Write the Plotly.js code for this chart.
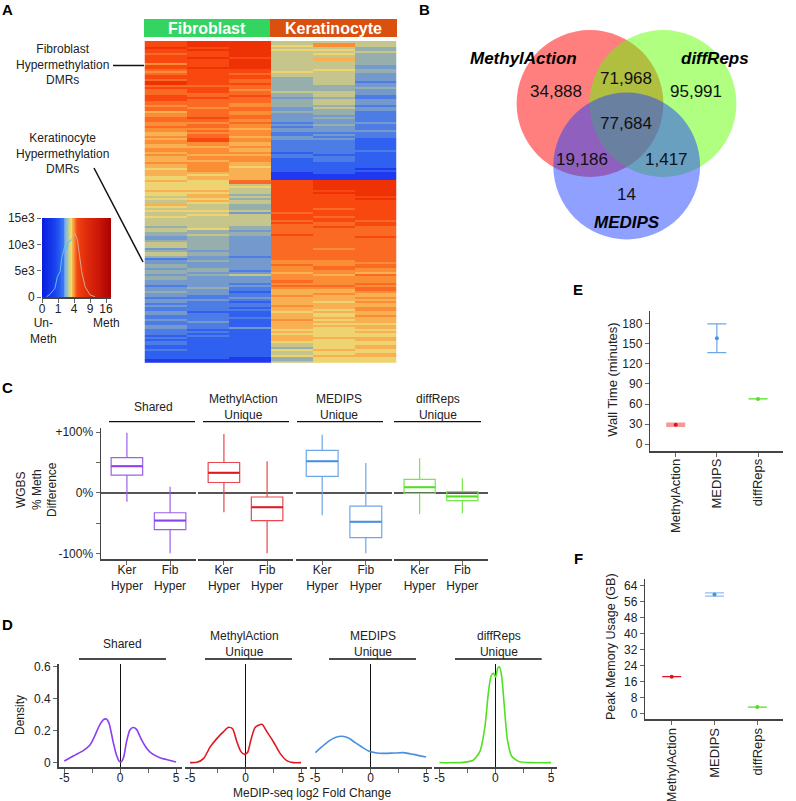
<!DOCTYPE html>
<html>
<head>
<meta charset="utf-8">
<script src="https://cdn.plot.ly/plotly-3.0.1.min.js"></script>
<style>
  html, body { margin: 0; padding: 0; background: #fff; }
</style>
</head>
<body>
<div id="chart" style="width:796px;height:801px"></div>
<script>
// Panel A - heatmap levels, one array per sample, top row first (0 deep blue .. 11 red)
const fib1 = [10,10,10,11,10,10,9,10,10,10, 10,8,10,10,9,8,9,10,10,9, 11,11,9,10,9,9,9,10,10,10,
  9,9,8,9,9,7,8,8,9,9, 8,8,9,8,8,7,7,8,7,8, 8,7,7,8,8,7,8,7,7,7, 8,7,7,6,7,7,7,6,6,7,
  6,6,6,6,7,6,6,5,6,5, 5,7,6,5,6,5,5,6,5,5, 5,5,4,5,5,4,4,3,3,4, 5,5,5,3,4,5,5,4,2,3,
  3,4,4,3,4,4,3,4,4,3, 3,2,3,3,4,3,3,2,3,3, 2,3,2,2,3,3,2,2,3,2, 2,3,3,2,2,2,1,2,1,2, 2,1,1,2,1,1,1,1,0,0];
const fib2 = [11,11,11,10,11,10,10,10,11,10, 10,10,10,11,10,10,10,10,10,10, 10,10,9,10,10,10,9,9,10,9,
  9,9,9,8,9,9,9,9,10,9, 8,9,9,8,9,8,9,9,10,10, 8,8,7,8,8,8,7,8,8,7, 8,8,8,8,8,7,6,7,7,6,
  6,6,6,6,7,6,7,7,6,7, 6,5,5,5,6,5,6,5,5,5, 5,5,5,6,4,4,5,4,4,4, 4,4,4,4,3,4,4,3,3,4,
  3,3,3,4,4,3,4,3,3,3, 3,3,4,3,3,3,2,2,3,2, 2,2,2,2,1,2,2,2,2,3, 2,2,2,1,2,1,2,1,1,1, 1,1,1,1,1,1,1,1,0,0];
const fib3 = [11,11,11,11,11,11,11,11,10,11, 11,11,11,11,10,10,9,10,10,9, 9,10,9,9,8,9,9,10,9,9,
  9,8,8,9,9,8,8,9,9,8, 9,8,8,7,8,8,8,7,8,8, 7,7,8,7,7,8,7,8,8,8, 7,7,6,7,7,7,7,7,7,9,
  9,5,6,5,5,5,4,5,4,5, 5,4,4,4,5,3,5,5,5,5, 5,5,4,4,3,4,4,3,3,3, 3,3,3,3,3,3,3,2,3,3,
  3,3,3,3,2,3,5,3,3,3, 2,3,2,2,1,2,2,3,2,1, 2,2,1,2,1,1,1,2,1,1, 1,1,3,1,1,1,1,1,1,1, 1,1,1,1,1,1,1,0,0,0];
const ker1 = [5,5,6,5,6,5,5,5,5,5, 5,5,5,5,5,6,5,5,4,4, 4,4,4,4,4,5,4,4,3,4,
  4,4,4,3,3,4,3,3,3,3, 2,3,2,3,3,2,2,3,3,2, 2,2,2,2,2,1,2,2,1,1, 1,1,1,1,1,0,0,0,0,10,
  10,10,10,10,10,10,10,10,10,10, 10,10,10,10,10,9,10,10,10,9, 10,9,9,9,9,9,10,9,9,9, 9,9,9,9,9,9,9,9,9,8,
  8,9,8,8,8,7,8,8,8,9, 8,9,8,7,7,7,8,7,7,7, 7,8,7,7,6,7,7,7,8,7, 7,7,7,6,7,6,7,7,7,6, 5,5,4,6,5,5,6,4,4,5];
const ker2 = [5,8,8,5,6,5,6,5,7,7, 5,5,5,5,6,5,5,5,5,5, 5,5,4,4,4,5,5,5,4,5,
  5,5,4,5,4,4,4,3,4,3, 3,4,3,3,3,2,3,2,3,2, 2,2,2,2,2,2,1,2,2,2, 1,1,1,1,1,1,0,0,0,11,
  11,11,11,11,10,11,10,10,10,10, 10,10,10,9,10,10,10,9,10,10, 9,9,10,9,9,9,9,9,9,9, 9,9,9,8,9,9,9,9,9,8,
  8,8,9,9,8,8,7,8,8,8, 8,9,8,7,7,8,7,7,7,6, 7,7,7,6,7,6,6,7,6,7, 6,7,6,6,6,6,6,7,6,6, 6,6,6,7,6,6,7,6,6,6];
const ker3 = [5,5,5,4,4,5,4,4,4,4, 4,4,3,3,4,4,3,3,3,3, 2,3,3,4,3,3,3,2,2,3,
  3,3,2,3,3,2,2,2,2,2, 3,2,2,2,3,2,2,2,1,1, 1,1,1,1,2,1,1,1,1,1, 1,1,1,0,1,0,0,0,0,11,
  11,11,11,11,11,11,11,10,11,10, 10,10,10,10,10,10,10,10,10,9, 10,10,9,9,9,9,9,10,9,9, 9,9,9,9,9,9,9,9,9,9,
  8,9,9,8,8,7,9,8,8,8, 9,8,9,9,8,7,7,8,7,8, 7,7,8,8,7,7,8,7,7,7, 6,7,7,6,7,6,6,7,7,6, 6,7,7,6,6,7,7,6,6,6];

// colour key under the histogram, sqrt scale
const keySteps = [0,0.1,0.2,0.3,0.4,0.5,0.6,0.7,0.8,0.9,1,1.1,1.2,1.3,1.4,1.5,1.6,1.7,1.8,1.9,2,2.1,2.2,
  2.3,2.4,2.5,2.6,2.7,2.8,2.9,3,3.1,3.2,3.3,3.4,3.5,3.6,3.7,3.8,3.9,4,4.1,4.2,4.3];
const histLeftX = [0.29,0.5,0.81,0.96,1.13,1.23,1.44,1.54,1.65,1.85];
const histLeftY = [60,510,1650,3860,4820,7350,9880,8930,10510,10830];
const histRightX = [1.85,2.06,2.21,2.33,2.48,2.69,3.0,3.31];
const histRightY = [10830,12090,10830,7660,4820,1960,380,60];

// Panel B
const vennCounts = ['34,888','71,968','95,991','77,684','19,186','1,417','14'];
const vennNames = ['MethylAction','diffReps','MEDIPS'];

// Panel C - WGBS % meth difference, Ker then Fib for each group
const boxGroups = ['Shared','MethylAction<br>Unique','MEDIPS<br>Unique','diffReps<br>Unique'];
const boxCats = ['Ker<br>Hyper','Fib<br>Hyper'];
const boxLow = [-15,-100,-32,-100,-37,-100,-35,-34];
const boxQ1 = [29,-61,17,-46,27,-74,-1,-13];
const boxMed = [44,-46,33,-24,52,-48,9,-6];
const boxQ3 = [58,-33,50,-7,70,-22,22,2];
const boxHigh = [99,10,97,52,96,49,57,24];
const boxEdge = ['#9a62e8','#e8484e','#6fa6e6','#78e64e'];
const boxMid = ['#8a3ff0','#e01820','#4a90e0','#50e020'];

// Panel D - density curves
const sharedX = [-5,-4.2,-3.3,-2.7,-2.3,-1.84,-1.47,-1.23,-0.99,-0.63,-0.33,-0.09,0.12,0.33,0.57,0.87,1.17,1.47,1.92,2.37,2.82,3.56,4.31,5];
const sharedY = [.01,.042,.075,.11,.163,.235,.27,.273,.246,.131,.048,.01,.006,.038,.131,.204,.22,.208,.142,.09,.058,.031,.017,.004];
const methylX = [-5,-4.37,-3.77,-3.17,-2.57,-1.98,-1.53,-1.17,-0.78,-0.42,-0.09,0.18,0.48,0.87,1.47,1.92,2.51,3.11,3.71,4.31,5];
const methylY = [0,.002,.027,.1,.152,.194,.221,.212,.131,.069,.052,.063,.142,.221,.24,.194,.131,.058,.013,0,0];
const medipsX = [-4.97,-4.37,-3.77,-3.17,-2.57,-1.98,-1.38,-.78,-.18,.42,1.17,2.07,2.96,3.86,5];
const medipsY = [.0625,.1,.135,.158,.165,.154,.125,.098,.073,.0625,.058,.06,.0625,.052,.035];
const diffX = [-5,-2.87,-1.98,-1.38,-.93,-.63,-.39,-.18,.03,.21,.36,.57,.78,1.08,1.47,2.07,3.11,5];
const diffY = [0,.002,.015,.071,.227,.435,.54,.56,.535,.59,.6,.54,.373,.144,.04,.008,0,0];

// Panels E and F
const tools = ['MethylAction','MEDIPS','diffReps'];
const toolColors = ['#e01020','#4a90e0','#50e020'];
const wallTime = [29,158,67.5];
const wallUp = [1.6,21.5,0];
const wallDown = [1.6,21.5,0];
const wallErrColors = ['#f09a9a','#6fa6e6','#50e020'];
const wallErrWidths = [2.4,1.2,1.2];
const memory = [18.3,59.4,3.1];
const memoryUp = [0,0.8,0];
const memoryDown = [0,0.8,0];
const memoryErrColors = ['#e01020','#8fbdf0','#50e020'];
const memoryErrWidths = [1.2,1.2,1.2];

const W = 796, H = 801;
const FONT = '"Liberation Sans", Arial, sans-serif';
const INK = '#222';
const AXIS = '#444';
const px = v => v / W;
const py = v => 1 - v / H;

const traces = [];
const annotations = [];
const shapes = [];

function note(text, x, y, opts) {
    annotations.push(Object.assign({
        text: text, x: px(x), y: py(y), xref: 'paper', yref: 'paper',
        xanchor: 'center', yanchor: 'middle', showarrow: false,
        font: {family: FONT, size: 12, color: INK}
    }, opts || {}));
}

function rule(x0, y0, x1, y1, width) {
    shapes.push({
        type: 'line', xref: 'paper', yref: 'paper',
        x0: px(x0), y0: py(y0), x1: px(x1), y1: py(y1),
        line: {color: '#111', width: width || 1.3}
    });
}

const layout = {
    width: W, height: H,
    margin: {l: 0, r: 0, t: 0, b: 0},
    paper_bgcolor: '#fff', plot_bgcolor: 'rgba(0,0,0,0)',
    showlegend: false,
    font: {family: FONT, size: 12, color: INK}
};

function setAxes(n, xa, ya, left, right, top, bottom) {
    const s = n === 1 ? '' : n;
    layout['xaxis' + s] = Object.assign({
        domain: [px(left), px(right)], anchor: 'y' + s, showgrid: false, zeroline: false,
        fixedrange: true, tickfont: {family: FONT, size: 12, color: INK}
    }, xa);
    layout['yaxis' + s] = Object.assign({
        domain: [py(bottom), py(top)], anchor: 'x' + s, showgrid: false, zeroline: false,
        fixedrange: true, tickfont: {family: FONT, size: 12, color: INK}
    }, ya);
}

const axisLine = {showline: true, linecolor: AXIS, linewidth: 1.5, ticks: 'outside', ticklen: 4, tickcolor: '#666'};
const hidden = {showline: false, showticklabels: false, ticks: ''};

// A: heatmap
const heatZ = fib1.map((_, i) => [fib1[i], fib2[i], fib3[i], ker1[i], ker2[i], ker3[i]]);
traces.push({
    type: 'heatmap', z: heatZ, xaxis: 'x', yaxis: 'y', showscale: false, zmin: 0, zmax: 11,
    colorscale: [
        [0, '#2038f0'], [1/11, '#3060f0'], [2/11, '#4c7ce4'], [3/11, '#7499cc'],
        [4/11, '#96aeac'], [5/11, '#c6c68c'], [6/11, '#eed470'], [7/11, '#f9b052'],
        [8/11, '#fb8e34'], [9/11, '#fa6a24'], [10/11, '#f8480f'], [1, '#ee3206']
    ],
    hoverinfo: 'skip'
});
setAxes(1, Object.assign({range: [-0.5, 5.5]}, hidden), Object.assign({range: [159.5, -0.5]}, hidden), 144.5, 396.5, 41, 362.7);

shapes.push({type: 'rect', xref: 'paper', yref: 'paper', x0: px(144), x1: px(270), y0: py(37), y1: py(19), fillcolor: '#33d45f', line: {width: 0}});
shapes.push({type: 'rect', xref: 'paper', yref: 'paper', x0: px(270), x1: px(397), y0: py(37), y1: py(19), fillcolor: '#d9500f', line: {width: 0}});
note('<b>Fibroblast</b>', 207, 28.5, {font: {family: FONT, size: 16, color: '#fff'}});
note('<b>Keratinocyte</b>', 333.5, 28.5, {font: {family: FONT, size: 16, color: '#fff'}});

note('Fibroblast<br>Hypermethylation<br>DMRs', 62, 65);
note('Keratinocyte<br>Hypermethylation<br>DMRs', 62, 153);
rule(113, 65.5, 144, 65.5, 1.5);
rule(94, 168, 143, 262, 1.5);

// A: colour key with histogram
traces.push({
    type: 'heatmap', x: keySteps, y0: 7500, dy: 15000, z: [keySteps], xaxis: 'x2', yaxis: 'y2',
    showscale: false, zmin: 0, zmax: 4.33, zsmooth: 'best', hoverinfo: 'skip',
    colorscale: [
        [0, '#0a1ee0'], [0.2, '#1c46f0'], [0.3, '#3a78f2'], [0.335, '#7fb2e8'], [0.37, '#b8cc98'],
        [0.415, '#f6dc64'], [0.45, '#f8a040'], [0.49, '#f24a14'], [0.6, '#e4300c'], [0.8, '#cc1808'], [1, '#a80000']
    ]
});
traces.push({type: 'scatter', mode: 'lines', x: histLeftX, y: histLeftY, xaxis: 'x2', yaxis: 'y2', line: {color: '#5cc0ee', width: 1}});
traces.push({type: 'scatter', mode: 'lines', x: histRightX, y: histRightY, xaxis: 'x2', yaxis: 'y2', line: {color: '#e0a48c', width: 1}});
setAxes(2,
    Object.assign({}, axisLine, {range: [0, 4.31], tickvals: [0, 1, 2, 3, 4], ticktext: ['0', '1', '4', '9', '16'], ticklabelstandoff: -4}),
    Object.assign({}, axisLine, {linewidth: 0, showline: false, range: [0, 15000], tickvals: [0, 5000, 10000, 15000], ticktext: ['0', '5e3', '10e3', '15e3']}),
    42, 111, 218, 297);
note('Un-<br>Meth', 43, 331);
note('Meth', 106, 323);

// B: venn
const vennColors = ['rgba(255,0,0,0.5)', 'rgba(97,255,1,0.5)', 'rgba(33,65,255,0.5)'];
[[590, 103.5], [663, 103.5], [626.7, 166]].forEach((c, i) => {
    shapes.push({
        type: 'circle', xref: 'paper', yref: 'paper',
        x0: px(c[0] - 73.4), x1: px(c[0] + 73.4), y0: py(c[1] + 73.4), y1: py(c[1] - 73.4),
        fillcolor: vennColors[i], line: {width: 0}
    });
});
[[556, 91], [626, 78], [696, 91], [626, 124], [582, 159], [666, 159], [626, 194]].forEach((p, i) => {
    note(vennCounts[i], p[0], p[1], {font: {family: FONT, size: 17, color: '#111'}});
});
[[523, 59], [715, 59], [627, 222]].forEach((p, i) => {
    note('<b><i>' + vennNames[i] + '</i></b>', p[0], p[1], {font: {family: FONT, size: 17, color: '#000'}});
});

// C: box plots
const boxDomains = [[101, 196], [198, 293], [296, 392], [394, 488]];
boxGroups.forEach((_, g) => {
    const n = 3 + g;
    [0, 1].forEach(k => {
        const i = g * 2 + k;
        traces.push({
            type: 'box', x: [k], q1: [boxQ1[i]], median: [boxMed[i]], q3: [boxQ3[i]],
            lowerfence: [boxLow[i]], upperfence: [boxHigh[i]], width: 0.73, whiskerwidth: 0,
            boxpoints: false, fillcolor: 'rgba(255,255,255,0)', xaxis: 'x' + n, yaxis: 'y' + n,
            line: {color: boxEdge[g], width: 1.2}
        });
        traces.push({
            type: 'box', x: [k], q1: [boxMed[i]], median: [boxMed[i]], q3: [boxMed[i]],
            lowerfence: [boxMed[i]], upperfence: [boxMed[i]], width: 0.73, whiskerwidth: 0,
            boxpoints: false, fillcolor: 'rgba(255,255,255,0)', xaxis: 'x' + n, yaxis: 'y' + n,
            line: {color: boxMid[g], width: 2}
        });
    });
    const ya = {range: [-109.4, 107], zeroline: true, zerolinecolor: '#555', zerolinewidth: 1.5};
    if (g === 0) {
        Object.assign(ya, axisLine, {tickvals: [100, 50, 0, -50, -100], ticktext: ['+100%', '', '0%', '', '-100%']});
    } else {
        Object.assign(ya, hidden);
    }
    setAxes(n,
        Object.assign({}, axisLine, {range: [-0.6, 1.6], tickvals: [0, 1], ticktext: boxCats, ticklabelstandoff: -5}),
        ya, boxDomains[g][0], boxDomains[g][1], 428, 559);
});
note('WGBS<br>% Meth<br>Difference', 36, 490, {textangle: -90});
const boxLabelX = [153, 243, 339, 438];
const boxRules = [[109, 195], [203, 289], [297, 383], [394, 481]];
boxGroups.forEach((t, g) => {
    note(t, boxLabelX[g], g === 0 ? 407 : 406.5);
    rule(boxRules[g][0], 421.7, boxRules[g][1], 421.7);
});

// D: density curves
const densX = [sharedX, methylX, medipsX, diffX];
const densY = [sharedY, methylY, medipsY, diffY];
const densDomains = [[58.7, 181.6], [184.5, 306.6], [309.5, 431.6], [434, 556.7]];
const densLabelX = [122, 244, 373, 499];
const densRules = [[79, 166], [205, 292], [329, 416], [455, 541.7]];
boxGroups.forEach((t, g) => {
    const n = 7 + g;
    traces.push({
        type: 'scatter', mode: 'lines', x: densX[g], y: densY[g], xaxis: 'x' + n, yaxis: 'y' + n,
        line: {color: boxMid[g], width: 1.6, shape: 'spline', smoothing: 0.6}
    });
    const ya = {range: [-0.029, 0.617]};
    if (g === 0) {
        Object.assign(ya, axisLine, {tickvals: [0, 0.2, 0.4, 0.6], ticktext: ['0', '0.2', '0.4', '0.6']});
    } else {
        Object.assign(ya, hidden);
    }
    setAxes(n,
        Object.assign({}, axisLine, {
            range: [-5.5, 5.5], tickvals: [-5, -2.5, 0, 2.5, 5], ticktext: ['-5', '', '0', '', '5'],
            zeroline: true, zerolinecolor: '#111', zerolinewidth: 1.2, ticklabelstandoff: -5
        }),
        ya, densDomains[g][0], densDomains[g][1], 664, 767.3);
    note(t, densLabelX[g], 644);
    rule(densRules[g][0], 659, densRules[g][1], 659);
});
note('Density', 20, 715, {textangle: -90});
note('MeDIP-seq log2 Fold Change', 312, 793);

// E and F: error bar panels
function addTools(n, vals, up, down, errColors, errWidths) {
    tools.forEach((_, i) => {
        traces.push({
            type: 'scatter', mode: 'markers', x: [i], y: [vals[i]], xaxis: 'x' + n, yaxis: 'y' + n,
            marker: {color: toolColors[i], size: 4},
            error_y: {type: 'data', symmetric: false, array: [up[i]], arrayminus: [down[i]],
                color: errColors[i], thickness: errWidths[i], width: 9.5}
        });
    });
}
const toolAxis = {tickvals: [0, 1, 2], ticktext: tools, tickangle: -90, tickfont: {family: FONT, size: 13, color: INK}};

addTools(11, wallTime, wallUp, wallDown, wallErrColors, wallErrWidths);
setAxes(11,
    Object.assign({}, axisLine, toolAxis, {range: [-0.618, 2.6], ticklabelstandoff: -3}),
    Object.assign({}, axisLine, {range: [-10, 199], tickvals: [0, 30, 60, 90, 120, 150, 180]}),
    650.3, 782.7, 310.7, 451);
note('Wall Time (minutes)', 611.7, 380, {textangle: -90, font: {family: FONT, size: 13, color: INK}});

addTools(12, memory, memoryUp, memoryDown, memoryErrColors, memoryErrWidths);
setAxes(12,
    Object.assign({}, axisLine, toolAxis, {range: [-0.617, 2.607], ticklabelstandoff: -2}),
    Object.assign({}, axisLine, {range: [-3, 67], tickvals: [0, 8, 16, 24, 32, 40, 48, 56, 64]}),
    645.3, 783.3, 579.3, 719.3);
note('Peak Memory Usage (GB)', 611, 647, {textangle: -90, font: {family: FONT, size: 12.5, color: INK}});

// Panel letters
[['A', 7, 9], ['B', 425, 9], ['C', 7, 387], ['D', 7, 624], ['E', 578, 289], ['F', 578, 558]].forEach(l => {
    note('<b>' + l[0] + '</b>', l[1], l[2], {font: {family: FONT, size: 15, color: '#000'}});
});

layout.annotations = annotations;
layout.shapes = shapes;

Plotly.newPlot('chart', traces, layout, {displayModeBar: false, staticPlot: true});
</script>
</body>
</html>
